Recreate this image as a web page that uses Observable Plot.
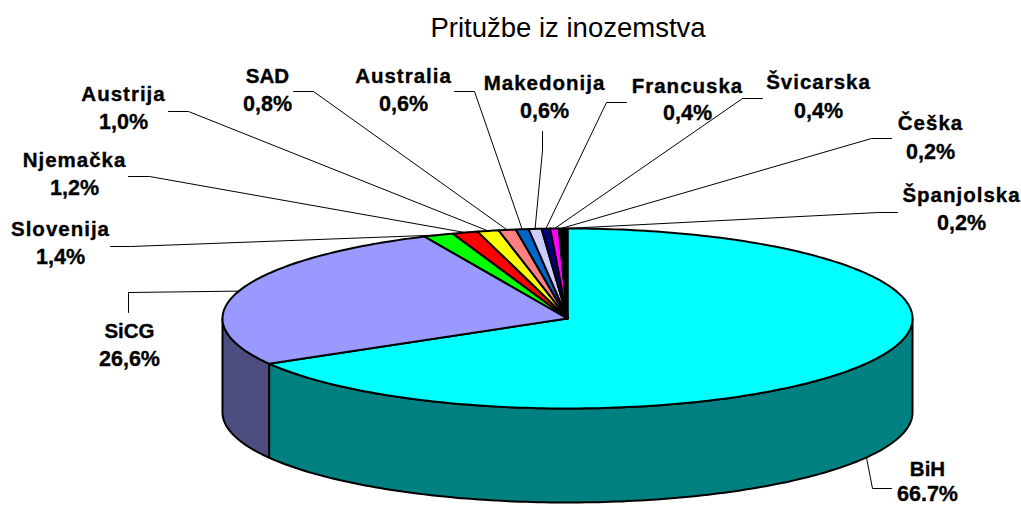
<!DOCTYPE html>
<html>
<head>
<meta charset="utf-8">
<script src="https://cdn.jsdelivr.net/npm/d3@7"></script>
<script src="https://cdn.jsdelivr.net/npm/@observablehq/plot@0.6"></script>
<style>
html, body { margin: 0; padding: 0; background: #fff; }
svg { display: block; }
.spaced text, text.spaced, .spaced { letter-spacing: 1px; }
</style>
</head>
<body>
<div id="chart"></div>
<script>
const titleText = "Pritužbe iz inozemstva";
const categories = ["BiH", "SiCG", "Slovenija", "Njemačka", "Austrija", "SAD", "Australia", "Makedonija", "Francuska", "Švicarska", "Češka", "Španjolska"];
const shares = [66.7, 26.6, 1.4, 1.2, 1.0, 0.8, 0.6, 0.6, 0.4, 0.4, 0.2, 0.2];
const shareLabels = ["66.7%", "26,6%", "1,4%", "1,2%", "1,0%", "0,8%", "0,6%", "0,6%", "0,4%", "0,4%", "0,2%", "0,2%"];
const topColors = ["#00ffff", "#9999ff", "#00ff00", "#ff0000", "#ffff00", "#ff8080", "#0066cc", "#ccccff", "#000080", "#ff00ff", "#000000", "#000000"];
const sideColors = ["#008080", "#4d4d80"];

// layout of the pie, in page pixels
const cx = 567, cy = 318, rx = 345, ry = 90, depth = 94;
// layout of the labels: centre x, first line y, second line y, leader start, leader elbow
const labelLayout = [
  [927, 469, 494, [891, 488], [872, 488]],
  [129, 331, 359, [128, 312], [128, 292]],
  [60, 229, 257, [110, 246], [130, 246]],
  [74, 160, 188, [128, 176], [149, 176]],
  [123, 94, 122, [168, 111], [188, 111]],
  [267, 76, 104, [293, 91], [313, 91]],
  [403, 76, 104, [454, 91], [474, 91]],
  [544, 83, 111, [542, 131], [542, 150]],
  [687, 86, 113, [626, 102], [606, 102]],
  [818, 82, 111, [762, 98], [742, 98]],
  [930, 123, 152, [891, 138], [871, 138]],
  [961, 195, 223, [897, 212], [878, 212]]
];
const tightNames = new Set(["BiH", "SiCG", "SAD"]);

const total = d3.sum(shares);
let acc = 0;
const slices = categories.map((name, i) => {
  const a0 = acc / total * 2 * Math.PI;
  acc += shares[i];
  const a1 = acc / total * 2 * Math.PI;
  return {name, i, a0, a1, mid: (a0 + a1) / 2};
});
const px = a => cx + rx * Math.sin(a);
const py = (a, dz = 0) => cy - ry * Math.cos(a) + dz;
const arc = (a0, a1, dz = 0) => {
  const n = Math.max(2, Math.ceil(Math.abs(a1 - a0) / (Math.PI / 180)));
  return d3.range(n + 1).map(k => {
    const a = a0 + (a1 - a0) * k / n;
    return {x: px(a), y: py(a, dz)};
  });
};

const topRows = slices.flatMap(s =>
  [{x: cx, y: cy}, ...arc(s.a0, s.a1)].map(p => ({...p, name: s.name, color: topColors[s.i]}))
);
const sideRows = slices.slice(0, 2).flatMap(s => {
  const a0 = Math.max(s.a0, Math.PI / 2), a1 = Math.min(s.a1, 3 * Math.PI / 2);
  return [...arc(a0, a1), ...arc(a1, a0, depth)].map(p => ({...p, name: s.name, color: sideColors[s.i]}));
});
const leaderRows = slices.flatMap(s => {
  const [, , , start, elbow] = labelLayout[s.i];
  const endDz = s.i === 0 ? depth : 0;
  return [
    {x: start[0], y: start[1], name: s.name},
    {x: elbow[0], y: elbow[1], name: s.name},
    {x: px(s.mid), y: py(s.mid, endDz), name: s.name}
  ];
});
const nameRows = slices.map(s => ({name: s.name, x: labelLayout[s.i][0], y: labelLayout[s.i][1]}));
const shareRows = slices.map(s => ({text: shareLabels[s.i], x: labelLayout[s.i][0], y: labelLayout[s.i][2]}));

const font = "Liberation Sans, Arial, sans-serif";
const boldText = {fontWeight: "bold", fill: "#000", stroke: "#000", strokeWidth: 0.35};
const chart = Plot.plot({
  width: 1021, height: 506, margin: 0,
  style: {fontFamily: font, background: "#fff"},
  x: {domain: [0, 1021], range: [0, 1021], axis: null},
  y: {domain: [0, 506], range: [0, 506], axis: null},
  color: {type: "identity"},
  marks: [
    Plot.line(leaderRows, {x: "x", y: "y", z: "name", stroke: "#000", strokeWidth: 1}),
    Plot.line(sideRows, {x: "x", y: "y", z: "name", fill: "color", stroke: "#000", strokeWidth: 2, curve: "linear-closed"}),
    Plot.line(topRows, {x: "x", y: "y", z: "name", fill: "color", stroke: "#000", strokeWidth: 2, curve: "linear-closed"}),
    Plot.text([titleText], {x: () => 567.5, y: () => 28, text: d => d, fontSize: 27.5, fill: "#000"}),
    Plot.text(nameRows.filter(d => tightNames.has(d.name)), {x: "x", y: "y", text: "name", fontSize: 20.5, ...boldText}),
    Plot.text(nameRows.filter(d => !tightNames.has(d.name)), {x: "x", y: "y", text: "name", fontSize: 20.5, ...boldText, className: "spaced"}),
    Plot.text(shareRows, {x: "x", y: "y", text: "text", fontSize: 21.5, ...boldText})
  ]
});
document.getElementById("chart").appendChild(chart);
</script>
</body>
</html>
